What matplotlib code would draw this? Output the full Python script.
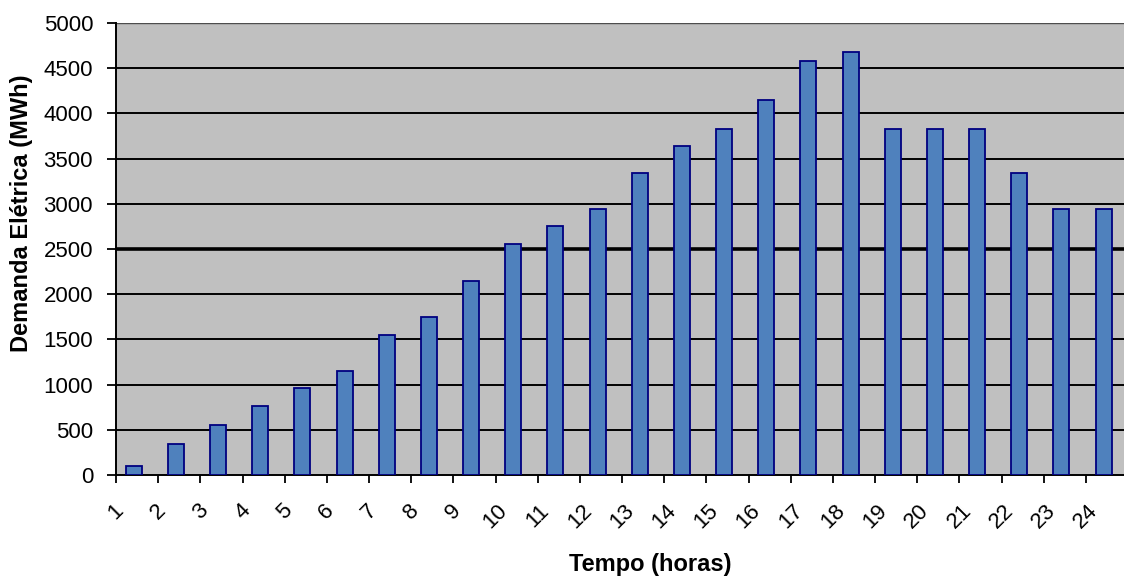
import matplotlib.pyplot as plt
import numpy as np

plt.rcParams['font.family'] = ['Liberation Sans', 'DejaVu Sans']

# hourly electric demand
horas = [str(h) for h in range(1, 25)]
demanda = [100, 340, 550, 760, 960, 1150, 1550, 1750, 2150, 2550, 2750, 2940,
           3340, 3640, 3830, 4150, 4580, 4680, 3830, 3830, 3830, 3340, 2940, 2940]
y_ticks = list(range(0, 5001, 500))

fig = plt.figure(figsize=(11.24, 5.79), dpi=100)
ax = fig.add_axes([116 / 1124, 104 / 579, 1012 / 1124, 452 / 579])
ax.set_facecolor('#c0c0c0')

x = np.arange(len(horas))
ax.bar(x - 0.08, demanda, width=0.38, color='#4f81bd', edgecolor='#000080',
       linewidth=1.3, zorder=3)

ax.set_xlim(-0.5, len(horas) - 0.5)
ax.set_ylim(0, 5000)
ax.set_yticks(y_ticks)
ax.set_yticklabels([str(v) for v in y_ticks], fontsize=16)

# category labels sit on the boundaries between columns
ax.set_xticks(x - 0.5)
ax.set_xticklabels(horas, rotation=45, ha='center', fontsize=16)

ax.tick_params(axis='y', direction='out', length=6.5, width=1.3, pad=10, colors='black')
ax.tick_params(axis='x', direction='out', length=6, width=1.3, pad=12, colors='black')

for v in y_ticks[1:]:
    ax.axhline(v, color='black', linewidth=1.4 if v != 5000 else 1.0,
               alpha=1.0 if v != 5000 else 0.6, zorder=1)
ax.axhline(2500, color='black', linewidth=2.6, zorder=1)

for side in ['top', 'right']:
    ax.spines[side].set_visible(False)
ax.spines['left'].set_linewidth(1.4)
ax.spines['bottom'].set_linewidth(1.4)

fig.text(650 / 1124, 1 - 565 / 579, 'Tempo (horas)', fontsize=17, fontweight='bold',
         ha='center', va='center')
fig.text(22 / 1124, 1 - 213 / 579, 'Demanda Elétrica (MWh)', fontsize=17,
         fontweight='bold', rotation=90, ha='center', va='center')

fig.savefig('out.png', dpi=100)
